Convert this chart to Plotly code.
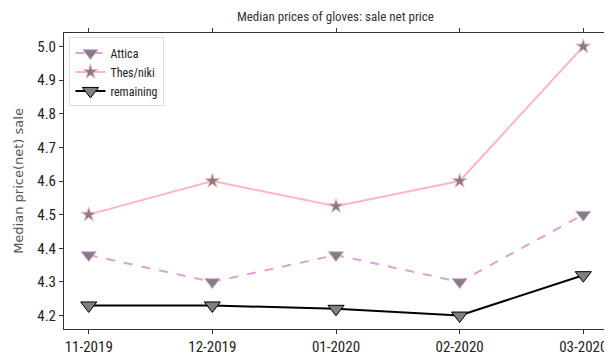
import plotly.graph_objects as go

months = ["11-2019", "12-2019", "01-2020", "02-2020", "03-2020"]
attica = [4.38, 4.30, 4.38, 4.30, 4.50]
thes_niki = [4.50, 4.60, 4.525, 4.60, 5.00]
remaining = [4.23, 4.23, 4.22, 4.20, 4.32]
y_ticks = [4.2, 4.3, 4.4, 4.5, 4.6, 4.7, 4.8, 4.9, 5.0]

narrow = "Liberation Sans Narrow, Roboto Condensed, Arial Narrow, sans-serif"
xpos = list(range(len(months)))

fig = go.Figure()
fig.add_trace(go.Scatter(
    x=xpos, y=attica, name="Attica", mode="lines+markers",
    line=dict(color="#DDA0DD", width=2, dash="dash"),
    marker=dict(symbol="triangle-down", size=13, color="#808080",
                line=dict(color="#DDA0DD", width=1)),
))
fig.add_trace(go.Scatter(
    x=xpos, y=thes_niki, name="Thes/niki", mode="lines+markers",
    line=dict(color="#FFB6C1", width=2),
    marker=dict(symbol="star", size=11, color="#808080",
                line=dict(color="#FFB6C1", width=1)),
))
fig.add_trace(go.Scatter(
    x=xpos, y=remaining, name="remaining", mode="lines+markers",
    line=dict(color="black", width=2),
    marker=dict(symbol="triangle-down", size=14, color="#808080",
                line=dict(color="black", width=1)),
))

fig.update_layout(
    width=612, height=355,
    margin=dict(l=56, r=7, t=25, b=31),
    paper_bgcolor="white", plot_bgcolor="white",
    title=dict(text="Median prices of gloves: sale net price", x=0.535, xanchor="center",
               yref="container", y=0.99, yanchor="top",
               font=dict(family=narrow, size=13, color="#333333")),
    font=dict(family=narrow, color="#222222"),
    legend=dict(x=0.01, y=0.985, xanchor="left", yanchor="top",
                bgcolor="rgba(255,255,255,0.9)", bordercolor="#dddddd", borderwidth=1,
                font=dict(family=narrow, size=12, color="#222222"),
                itemwidth=30, tracegroupgap=0),
)
fig.update_xaxes(
    range=[-0.2, 4.2], tickmode="array", tickvals=xpos, ticktext=months,
    showgrid=False, zeroline=False, showline=True, linecolor="#333333", linewidth=1,
    mirror="ticks", ticks="outside", ticklen=4, tickcolor="#333333",
    tickfont=dict(family=narrow, size=15, color="#222222"),
)
fig.update_yaxes(
    range=[4.16, 5.04], tickmode="array", tickvals=y_ticks,
    ticktext=[f"{v:.1f}" for v in y_ticks],
    showgrid=False, zeroline=False, showline=True, linecolor="#333333", linewidth=1,
    mirror="ticks", ticks="outside", ticklen=4, tickcolor="#333333",
    tickfont=dict(family=narrow, size=15, color="#222222"),
    title=dict(text="Median price(net) sale", standoff=10,
               font=dict(family="DejaVu Sans, sans-serif", size=13, color="#555555")),
)

fig.write_html("out.html")
